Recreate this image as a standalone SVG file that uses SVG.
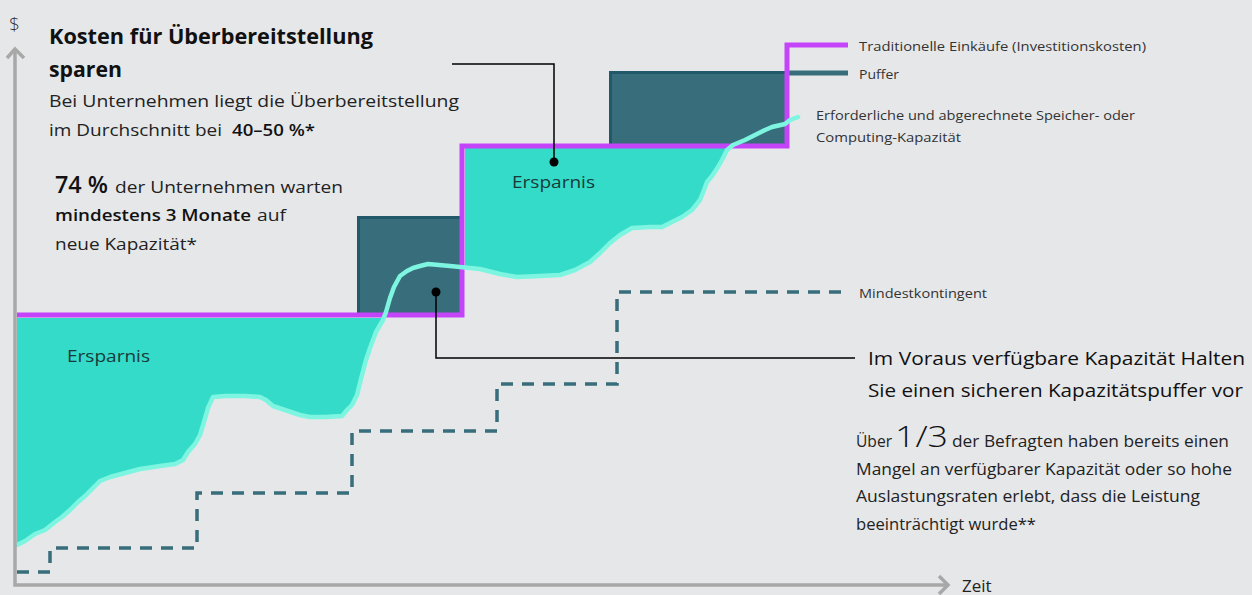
<svg xmlns="http://www.w3.org/2000/svg" width="1252" height="595" viewBox="0 0 1252 595">
<style>
text{font-family:"Open Sans","Liberation Sans",sans-serif;fill:#222}
.b{font-weight:bold;fill:#111}
.sb{font-weight:600;fill:#111}
.r18{font-size:17px}
.leg{font-size:12.5px;fill:#333}
.big{font-size:19px;fill:#111}
.body{font-size:15.5px}
.ers{font-size:17px;fill:#1a3a3a}
.fill{fill:#33dbc8}
.box{fill:#386e7b}
.boxedge{fill:none;stroke:#22596a;stroke-width:3}
.axis{fill:none;stroke:#a8a8a8;stroke-width:3.5}
.conn{fill:none;stroke:#000;stroke-width:1.5}
</style>
<rect x="0" y="0" width="1252" height="595" fill="#e6e7e9"/>

<g id="savings-fill">
<path class="fill" d="M17,318 L385,318 L376,332 L370,348 L366,360 L362,375 L357,395 L352,405 L347,410 L342,416 L325,417 L310,417 L300,415 L285,410 L273,406 L266,400 L260,397 L245,396 L225,396 L213,397 L208,408 L204,422 L200,435 L195,444 L188,452 L183,460 L175,464 L160,466 L140,469 L125,473 L110,477 L100,481 L95,486 L85,496 L78,502 L70,510 L62,517 L55,522 L45,530 L35,534 L25,541 L17,545 Z"/>
<path class="fill" d="M465,148 L731,148 L727,150 L722,160 L718,167 L712,176 L707,182 L704,190 L700,200 L692,210 L682,217 L672,222 L662,227 L650,227 L632,228 L620,235 L610,243 L600,253 L590,262 L575,270 L560,275 L540,276 L517,277 L500,274 L480,269 L465,267 Z"/>
</g>

<g id="buffer-boxes">
<rect class="box" x="357" y="216" width="105" height="99"/>
<path class="boxedge" d="M358.5,315 V217.5 H462"/>
<rect class="box" x="609" y="71" width="178" height="75"/>
<path class="boxedge" d="M610.5,146 V72.5 H787"/>
<path d="M787,73 H848" stroke="#386e7b" stroke-width="5" fill="none"/>
</g>

<g id="traditional-line">
<path d="M17,315 H462 V146 H787 V45 H848" fill="none" stroke="#c444fa" stroke-width="5"/>
</g>

<g id="required-capacity-curve">
<polyline fill="none" stroke="#7df5e0" stroke-width="4.5" stroke-linejoin="round" stroke-linecap="round" points="17,545 25,541 35,534 45,530 55,522 62,517 70,510 78,502 85,496 95,486 100,481 110,477 125,473 140,469 160,466 175,464 183,460 188,452 195,444 200,435 204,422 208,408 213,397 225,396 245,396 260,397 266,400 273,406 285,410 300,415 310,417 325,417 342,416 347,410 352,405 357,395 362,375 366,360 370,348 376,332 383,320 386,312 390,298 394,287 400,276 407,271 413,268 420,266 428,264 450,266 480,269 500,274 517,277 540,276 560,275 575,270 590,262 600,253 610,243 620,235 632,228 650,227 662,227 672,222 682,217 692,210 700,200 704,190 707,182 712,176 718,167 722,160 727,150 733,145 745,140 755,135 765,130 772,127 785,124 790,120 798,117"/>
</g>

<g id="minimum-line">
<path d="M17,572 H50 V548 H197 V493 H352 V431 H497 V384 H617 V292 H848" fill="none" stroke="#386e7b" stroke-width="3.5" stroke-dasharray="12,9"/>
</g>

<g id="axes">
<path class="axis" d="M15,50 V585 H947"/>
<path class="axis" d="M7,58 L15,49 L24,58"/>
<path class="axis" d="M939,576 L948,585 L939,594"/>
<text x="9" y="31" style="font-size:19px;font-weight:300;fill:#333">$</text>
<text x="962" y="592" style="font-size:17px;fill:#222">Zeit</text>
</g>

<g id="connectors">
<path class="conn" d="M452,64 H554 V162"/>
<circle cx="554" cy="162" r="4.5" fill="#000"/>
<path class="conn" d="M436,292 V358 H855"/>
<circle cx="436" cy="292" r="4.5" fill="#000"/>
</g>

<g id="headline-text">
<text class="b" x="49" y="44" style="font-size:21px" textLength="324" lengthAdjust="spacingAndGlyphs">Kosten für Überbereitstellung</text>
<text class="b" x="49" y="77" style="font-size:21px" textLength="73" lengthAdjust="spacingAndGlyphs">sparen</text>
<text class="r18" x="49" y="107" textLength="410" lengthAdjust="spacingAndGlyphs">Bei Unternehmen liegt die Überbereitstellung</text>
<text class="r18" x="49" y="136" textLength="173" lengthAdjust="spacingAndGlyphs">im Durchschnitt bei</text>
<text class="r18 sb" x="232" y="136" textLength="83" lengthAdjust="spacingAndGlyphs">40–50 %*</text>
</g>

<g id="wait-text">
<text class="sb" x="55" y="193" style="font-size:23px" textLength="53" lengthAdjust="spacingAndGlyphs">74 %</text>
<text class="r18" x="115" y="193" textLength="228" lengthAdjust="spacingAndGlyphs">der Unternehmen warten</text>
<text class="r18 sb" x="55" y="221" textLength="196" lengthAdjust="spacingAndGlyphs">mindestens 3 Monate</text>
<text class="r18" x="257" y="221" textLength="29" lengthAdjust="spacingAndGlyphs">auf</text>
<text class="r18" x="55" y="250" textLength="142" lengthAdjust="spacingAndGlyphs">neue Kapazität*</text>
</g>

<g id="savings-labels">
<text class="ers" x="67" y="362" textLength="83" lengthAdjust="spacingAndGlyphs">Ersparnis</text>
<text class="ers" x="512" y="188" textLength="83" lengthAdjust="spacingAndGlyphs">Ersparnis</text>
</g>

<g id="legend">
<text class="leg" x="859" y="51" textLength="287" lengthAdjust="spacingAndGlyphs">Traditionelle Einkäufe (Investitionskosten)</text>
<text class="leg" x="859" y="79" textLength="40" lengthAdjust="spacingAndGlyphs">Puffer</text>
<text class="leg" x="816" y="120" textLength="319" lengthAdjust="spacingAndGlyphs">Erforderliche und abgerechnete Speicher- oder</text>
<text class="leg" x="816" y="142" textLength="145" lengthAdjust="spacingAndGlyphs">Computing-Kapazität</text>
<text class="leg" x="859" y="298" textLength="128" lengthAdjust="spacingAndGlyphs">Mindestkontingent</text>
</g>

<g id="buffer-text">
<text class="big" x="868" y="365" textLength="377" lengthAdjust="spacingAndGlyphs">Im Voraus verfügbare Kapazität Halten</text>
<text class="big" x="868" y="397" textLength="375" lengthAdjust="spacingAndGlyphs">Sie einen sicheren Kapazitätspuffer vor</text>
<text class="body" x="856" y="447" textLength="36" lengthAdjust="spacingAndGlyphs">Über</text>
<text x="895" y="447" style="font-size:29px;font-weight:300;fill:#111" textLength="53" lengthAdjust="spacingAndGlyphs">1/3</text>
<text class="body" x="952" y="447" textLength="277" lengthAdjust="spacingAndGlyphs">der Befragten haben bereits einen</text>
<text class="body" x="856" y="475" textLength="376" lengthAdjust="spacingAndGlyphs">Mangel an verfügbarer Kapazität oder so hohe</text>
<text class="body" x="856" y="502" textLength="344" lengthAdjust="spacingAndGlyphs">Auslastungsraten erlebt, dass die Leistung</text>
<text class="body" x="856" y="530" textLength="180" lengthAdjust="spacingAndGlyphs">beeinträchtigt wurde**</text>
</g>
</svg>
